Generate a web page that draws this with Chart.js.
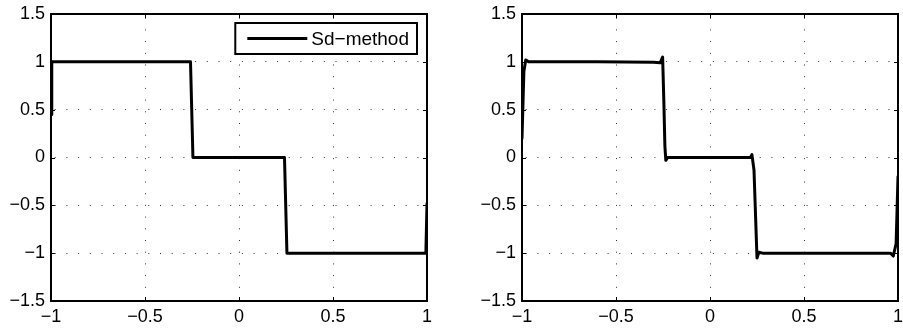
<!DOCTYPE html>
<html>
<head>
<meta charset="utf-8">
<script src="https://cdn.jsdelivr.net/npm/chart.js@4/dist/chart.umd.min.js"></script>
<style>
  body { margin: 0; background: #fff; }
  .box { position: absolute; top: 0; height: 332px; }
  #leftBox { left: 0; width: 440px; }
  #rightBox { left: 470px; width: 433px; }
</style>
</head>
<body>
<div class="box" id="leftBox"><canvas id="sdChart"></canvas></div>
<div class="box" id="rightBox"><canvas id="otherChart"></canvas></div>
<script>
// axes
const xTicks = [-1, -0.5, 0, 0.5, 1];
const yTicks = [-1.5, -1, -0.5, 0, 0.5, 1, 1.5];
const seriesLabel = 'Sd\u2212method';

// left panel (Sd-method)
const sdX = [-1, -0.996, -0.5, -0.258, -0.245, 0, 0.242, 0.255, 0.6, 0.994, 1];
const sdY = [0.45, 1, 1, 1, 0, 0, 0, -1, -1, -1, -0.48];

// right panel
const otherX = [-1, -0.99, -0.98, -0.965, -0.6, -0.3, -0.265, -0.252, -0.245, -0.24, -0.235, -0.225,
  0, 0.215, 0.223, 0.234, 0.25, 0.26, 0.28, 0.6, 0.96, 0.975, 0.99, 1];
const otherY = [0.2, 0.9, 1.02, 1, 1, 0.995, 0.99, 1.05, 0.55, 0.12, -0.03, 0,
  0, 0, 0.03, -0.13, -1.05, -0.99, -1, -1, -1, -1.03, -0.9, -0.2];

const fontFamily = "'Liberation Sans', Arial, Helvetica, sans-serif";
const fmt = v => String(v).replace('-', '\u2212');

// box, inward tick marks
const frame = {
  id: 'frame',
  afterDraw(chart) {
    const { ctx, chartArea: a, scales: { x, y } } = chart;
    ctx.save();
    ctx.strokeStyle = '#000';
    ctx.lineWidth = 1;
    ctx.beginPath();
    x.ticks.forEach(t => {
      const px = Math.round(x.getPixelForValue(t.value)) + 0.5;
      ctx.moveTo(px, a.bottom); ctx.lineTo(px, a.bottom - 4);
      ctx.moveTo(px, a.top); ctx.lineTo(px, a.top + 4);
    });
    y.ticks.forEach(t => {
      const py = Math.round(y.getPixelForValue(t.value)) + 0.5;
      ctx.moveTo(a.left, py); ctx.lineTo(a.left + 4, py);
      ctx.moveTo(a.right, py); ctx.lineTo(a.right - 4, py);
    });
    ctx.stroke();
    ctx.lineWidth = 2;
    ctx.strokeRect(a.left, a.top, a.right - a.left, a.bottom - a.top);
    ctx.restore();
  }
};

// boxed legend in the top right corner
const boxLegend = {
  id: 'boxLegend',
  afterDraw(chart) {
    const { ctx, chartArea: a } = chart;
    const label = chart.data.datasets[0].label;
    ctx.save();
    ctx.font = '19px ' + fontFamily;
    const tw = ctx.measureText(label).width;
    const w = 12 + 60 + 4 + tw + 8, h = 31;
    const left = a.right - 10 - w, top = a.top + 9;
    ctx.fillStyle = '#fff';
    ctx.fillRect(left, top, w, h);
    ctx.strokeStyle = '#000';
    ctx.lineWidth = 2;
    ctx.strokeRect(left, top, w, h);
    ctx.lineWidth = 3;
    ctx.beginPath();
    ctx.moveTo(left + 12, top + h / 2);
    ctx.lineTo(left + 72, top + h / 2);
    ctx.stroke();
    ctx.fillStyle = '#000';
    ctx.textBaseline = 'middle';
    ctx.fillText(label, left + 76, top + h / 2 + 1);
    ctx.restore();
  }
};

function makeChart(id, xs, ys, label, yAxisWidth, padRight, extraPlugins) {
  const gridColor = (min, max) => c => (c.tick && (c.tick.value === min || c.tick.value === max)) ? 'rgba(0,0,0,0)' : '#333';
  return new Chart(document.getElementById(id), {
    type: 'scatter',
    data: {
      datasets: [{
        label: label,
        data: xs.map((x, i) => ({ x: x, y: ys[i] })),
        showLine: true,
        borderColor: '#000',
        borderWidth: 3,
        borderJoinStyle: 'round',
        borderCapStyle: 'round',
        pointRadius: 0,
        tension: 0
      }]
    },
    options: {
      responsive: true,
      maintainAspectRatio: false,
      animation: false,
      layout: { padding: { top: 14, right: padRight, left: 0, bottom: 0 } },
      plugins: { legend: { display: false }, tooltip: { enabled: false } },
      scales: {
        x: {
          type: 'linear', min: -1, max: 1,
          afterBuildTicks: s => { s.ticks = xTicks.map(v => ({ value: v })); },
          afterFit: s => { s.height = 31; s.paddingLeft = 0; s.paddingRight = 0; },
          grid: { color: gridColor(-1, 1), lineWidth: 1, drawTicks: false },
          border: { display: false, dash: [1, 10.7], dashOffset: 8 },
          ticks: { color: '#000', padding: 5, maxRotation: 0, autoSkip: false,
                   font: { family: fontFamily, size: 18 }, callback: v => fmt(v) }
        },
        y: {
          type: 'linear', min: -1.5, max: 1.5,
          afterBuildTicks: s => { s.ticks = yTicks.map(v => ({ value: v })); },
          afterFit: s => { s.width = yAxisWidth; s.paddingTop = 0; s.paddingBottom = 0; },
          grid: { color: gridColor(-1.5, 1.5), lineWidth: 1, drawTicks: false },
          border: { display: false, dash: [1, 10.7], dashOffset: 8 },
          ticks: { color: '#000', padding: 6, autoSkip: false,
                   font: { family: fontFamily, size: 18 }, callback: v => fmt(v) }
        }
      }
    },
    plugins: [frame].concat(extraPlugins)
  });
}

makeChart('sdChart', sdX, sdY, seriesLabel, 51, 13, [boxLegend]);
makeChart('otherChart', otherX, otherY, '', 52, 5, []);
</script>
</body>
</html>
